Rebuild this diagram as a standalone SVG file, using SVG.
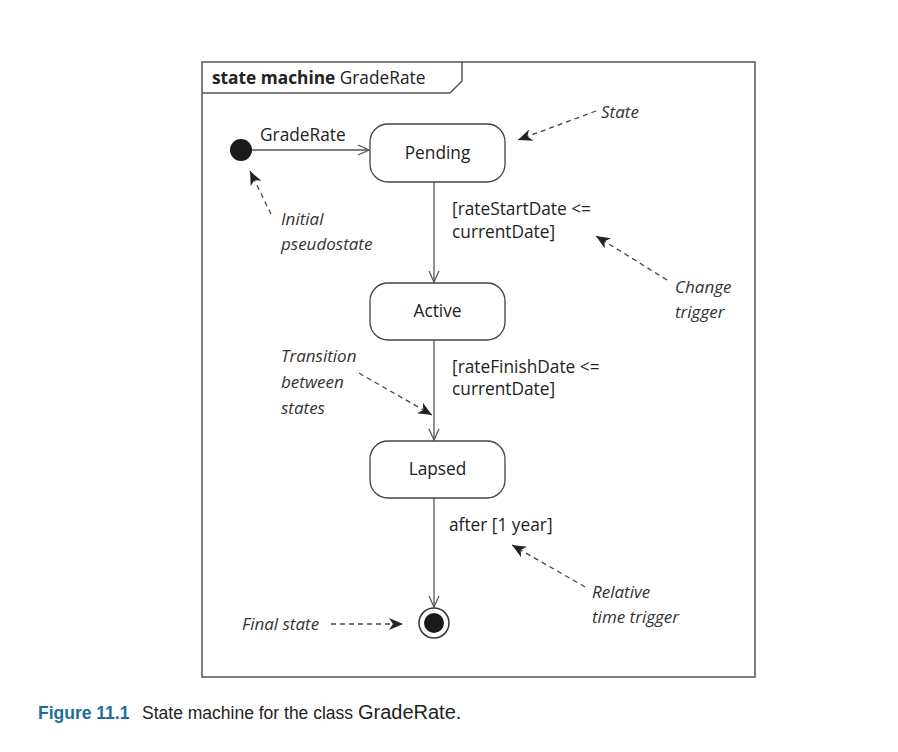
<svg xmlns="http://www.w3.org/2000/svg" width="898" height="752" viewBox="0 0 898 752">
<style>
  .t{font-family:"Open Sans","Liberation Sans",sans-serif;font-size:17.3px;fill:#222}
  .i{font-family:"Open Sans","Liberation Sans",sans-serif;font-size:17px;fill:#333;font-style:italic}
  .st{fill:#fff;stroke:#444;stroke-width:1.3}
  .ln{stroke:#555;stroke-width:1.3;fill:none}
  .da{stroke:#444;stroke-width:1.3;fill:none;stroke-dasharray:5,4}
  .c{font-family:"Liberation Sans",Arial,sans-serif;font-size:17.5px;fill:#222}
  .fig{fill:#1f6e96;font-weight:bold}
</style>
<defs>
  <marker id="open" markerWidth="14" markerHeight="12" refX="12" refY="6" orient="auto" markerUnits="userSpaceOnUse">
    <path d="M1,1 L12,6 L1,11" fill="none" stroke="#555" stroke-width="1.3"/>
  </marker>
  <marker id="fill" markerWidth="16" markerHeight="12" refX="14" refY="6" orient="auto" markerUnits="userSpaceOnUse">
    <path d="M0,0 L14,6 L0,12 L4,6 Z" fill="#222"/>
  </marker>
</defs>
<rect width="898" height="752" fill="#fff"/>
<g id="frame">
  <rect x="202" y="62" width="553" height="615" fill="none" stroke="#555" stroke-width="1.5"/>
  <path d="M202,93 L450,93 L462,81 L462,62" fill="none" stroke="#555" stroke-width="1.5"/>
  <text x="212" y="84" class="t"><tspan font-weight="bold">state machine</tspan> GradeRate</text>
</g>
<g id="connectors">
  <line x1="252" y1="150" x2="369" y2="150" class="ln" marker-end="url(#open)"/>
  <line x1="434" y1="182" x2="434" y2="282" class="ln" marker-end="url(#open)"/>
  <line x1="434" y1="340" x2="434" y2="440" class="ln" marker-end="url(#open)"/>
  <line x1="434" y1="498" x2="434" y2="607" class="ln" marker-end="url(#open)"/>
  <text x="260" y="141" class="t">GradeRate</text>
  <text x="452" y="215" class="t">[rateStartDate &lt;=</text>
  <text x="452" y="238" class="t">currentDate]</text>
  <text x="452" y="373" class="t">[rateFinishDate &lt;=</text>
  <text x="452" y="395" class="t">currentDate]</text>
  <text x="449" y="531" class="t">after [1 year]</text>
</g>
<g id="initial">
  <circle cx="241" cy="150" r="11" fill="#1a1a1a"/>
</g>
<g id="pending">
  <rect x="370" y="124" width="135" height="58" rx="18" class="st"/>
  <text x="437.5" y="159" class="t" text-anchor="middle">Pending</text>
</g>
<g id="active">
  <rect x="370" y="283" width="135" height="57" rx="18" class="st"/>
  <text x="437.5" y="317" class="t" text-anchor="middle">Active</text>
</g>
<g id="lapsed">
  <rect x="370" y="441" width="135" height="57" rx="18" class="st"/>
  <text x="437.5" y="475" class="t" text-anchor="middle">Lapsed</text>
</g>
<g id="final">
  <circle cx="434" cy="623" r="15" fill="#fff" stroke="#333" stroke-width="1.5"/>
  <circle cx="434" cy="623" r="10" fill="#1a1a1a"/>
</g>
<g id="annotations">
  <line x1="596" y1="111" x2="518" y2="140" class="da" marker-end="url(#fill)"/>
  <text x="601" y="118" class="i">State</text>
  <line x1="271" y1="214" x2="250" y2="171" class="da" marker-end="url(#fill)"/>
  <text x="281" y="225" class="i">Initial</text>
  <text x="281" y="250" class="i">pseudostate</text>
  <line x1="667" y1="280" x2="596" y2="236" class="da" marker-end="url(#fill)"/>
  <text x="675" y="293" class="i">Change</text>
  <text x="675" y="318" class="i">trigger</text>
  <line x1="359" y1="373" x2="432" y2="415" class="da" marker-end="url(#fill)"/>
  <text x="281" y="362" class="i">Transition</text>
  <text x="281" y="388" class="i">between</text>
  <text x="281" y="414" class="i">states</text>
  <line x1="585" y1="587" x2="512" y2="545" class="da" marker-end="url(#fill)"/>
  <text x="592" y="598" class="i">Relative</text>
  <text x="592" y="623" class="i">time trigger</text>
  <line x1="331" y1="624" x2="403" y2="624" class="da" marker-end="url(#fill)"/>
  <text x="242" y="630" class="i">Final state</text>
</g>
<g id="caption">
  <text x="38" y="719" class="c fig">Figure 11.1</text>
  <text x="142" y="719" class="c">State machine for the class <tspan font-size="20">GradeRate.</tspan></text>
</g>
</svg>
